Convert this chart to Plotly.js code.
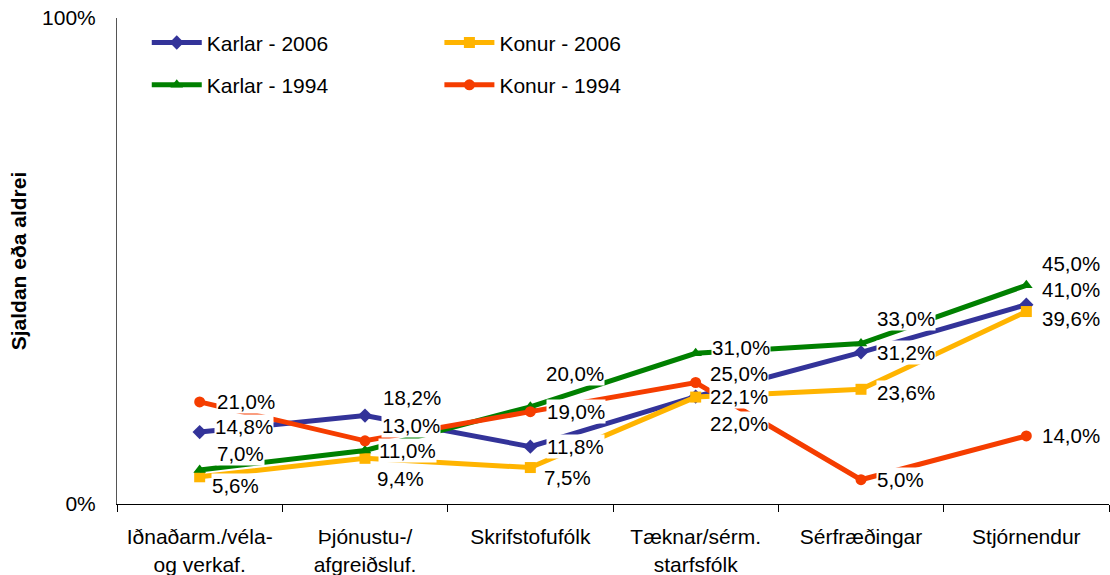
<!DOCTYPE html>
<html><head><meta charset="utf-8">
<script src="https://cdn.plot.ly/plotly-3.0.1.min.js"></script>
<style>html,body{margin:0;padding:0;background:#fff;}#chart{width:1110px;height:575px;}</style>
</head><body><div id="chart"></div>
<script>
// ---- data ----
const categories = ['Iðnaðarm./véla-<br>og verkaf.', 'Þjónustu-/<br>afgreiðsluf.', 'Skrifstofufólk', 'Tæknar/sérm.<br>starfsfólk', 'Sérfræðingar', 'Stjórnendur'];
const seriesNames = ['Karlar - 2006', 'Konur - 2006', 'Karlar - 1994', 'Konur - 1994'];
const karlar2006 = [14.8, 18.2, 11.8, 22.1, 31.2, 41.0];
const konur2006  = [5.6, 9.4, 7.5, 22.0, 23.6, 39.6];
const karlar1994 = [7.0, 11.0, 20.0, 31.0, 33.0, 45.0];
const konur1994  = [21.0, 13.0, 19.0, 25.0, 5.0, 14.0];
const yTickVals = [0, 100];
const yTickText = ['0%', '100%'];
const yTitle = 'Sjaldan eða aldrei';

// ---- styles ----
const colors = ['#333399', '#FFB400', '#008000', '#F53D00'];
const symbols = ['diamond', 'square', 'triangle-up', 'circle'];
const legendIds = ['legend', 'legend2', 'legend', 'legend2'];
// label nudges (px): dx to label left edge, dy upward
const labelDx = [
  [16, 19, 18, 15, 17, 17],
  [13, 13, 15, 15, 17, 17],
  [18, 15, 17, 17, 17, 17],
  [18, 18, 18, 15, 17, 17]
];
const labelDy = [
  [6, 18, 0, 0, 0, 15],
  [-9, -20, -10, -26, -3, -7],
  [16, 0, 33, 6, 25, 22],
  [0, 15, 0, 9, 0, 0]
];

const allValues = [karlar2006, konur2006, karlar1994, konur1994];
const fmt = v => v.toFixed(1).replace('.', ',') + '%';
const FONT = 'Liberation Sans, Arial, sans-serif';

const traces = allValues.map((vals, i) => ({
  type: 'scatter', mode: 'lines+markers',
  name: seriesNames[i], x: categories, y: vals,
  line: {color: colors[i], width: 5},
  marker: {symbol: symbols[i], size: 11, color: colors[i]},
  legend: legendIds[i], legendgroup: 'g' + i,
  cliponaxis: false, hoverinfo: 'skip'
}));

const annotations = [];
allValues.forEach((vals, i) => {
  vals.forEach((v, j) => {
    annotations.push({
      x: j, y: v, xref: 'x', yref: 'y', text: fmt(v), showarrow: false,
      xanchor: 'left', yanchor: 'middle',
      xshift: labelDx[i][j] - 2, yshift: labelDy[i][j],
      bgcolor: '#ffffff', borderpad: 0,
      font: {family: FONT, size: 20.5, color: '#000'}
    });
  });
});

const legendCommon = {
  orientation: 'v', bgcolor: 'rgba(0,0,0,0)', borderwidth: 0,
  font: {family: FONT, size: 21, color: '#000'},
  tracegroupgap: 12, itemwidth: 50, yanchor: 'top', xanchor: 'left', y: 0.991
};

const layout = {
  width: 1110, height: 575,
  margin: {l: 117, r: 1, t: 18, b: 71},
  paper_bgcolor: '#fff', plot_bgcolor: '#fff',
  font: {family: FONT, size: 21, color: '#000'},
  showlegend: true,
  legend: Object.assign({}, legendCommon, {x: 0.03}),
  legend2: Object.assign({}, legendCommon, {x: 0.325}),
  xaxis: {
    type: 'category', showgrid: false, zeroline: false,
    showline: true, linecolor: '#000', linewidth: 1,
    ticks: 'outside', tickson: 'boundaries', ticklen: 7, tickcolor: '#000',
    ticklabelstandoff: 14,
    tickfont: {size: 21}, range: [-0.5, 5.5]
  },
  yaxis: {
    range: [0, 100], showgrid: false, zeroline: false,
    showline: true, linecolor: '#555', linewidth: 1,
    tickvals: yTickVals, ticktext: yTickText,
    ticks: 'outside', ticklen: 16, tickcolor: 'rgba(0,0,0,0)',
    tickfont: {size: 21},
    title: {text: '<b>' + yTitle + '</b>', font: {size: 21}, standoff: 9}
  },
  annotations: annotations
};

Plotly.newPlot('chart', traces, layout, {displayModeBar: false, staticPlot: true});
</script>
</body></html>
